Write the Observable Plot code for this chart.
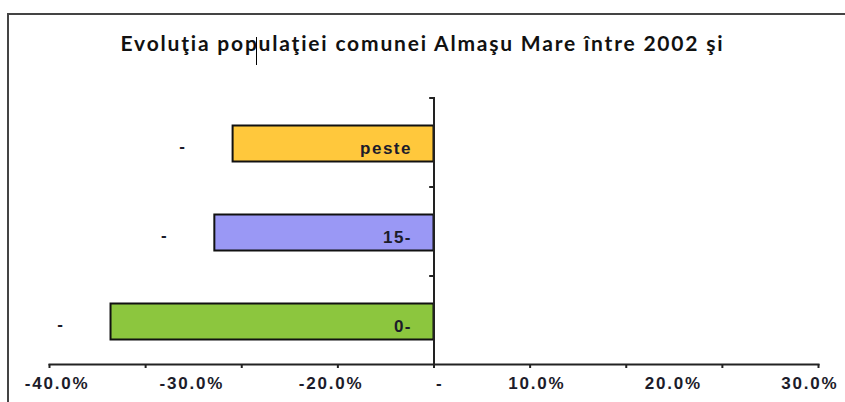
<!DOCTYPE html>
<html>
<head>
<meta charset="utf-8">
<script src="https://cdn.jsdelivr.net/npm/d3@7"></script>
<script src="https://cdn.jsdelivr.net/npm/@observablehq/plot@0.6"></script>
<style>
  html, body { margin: 0; padding: 0; background: #fff; }
  #wrap { position: relative; width: 845px; height: 402px; overflow: hidden; background: #fff; }
  #frameTop { position: absolute; left: 7px; top: 13px; width: 838px; height: 2px; background: #444; }
  #frameLeft { position: absolute; left: 7px; top: 13px; width: 2px; height: 389px; background: #444; }
  #title { position: absolute; left: 0; top: 30px; width: 845px; text-align: center;
           font-family: Lato, "Open Sans", sans-serif; font-weight: bold; font-size: 21px;
           letter-spacing: 1.8px; color: #111; white-space: nowrap; }
  #cursor { position: absolute; left: 256px; top: 37px; width: 1px; height: 28px; background: #000; }
  #chart { position: absolute; left: 0; top: 0; }
  #chart svg .lbl text, #chart svg text.lbl { letter-spacing: 1.8px; }
  #chart svg .ilbl text, #chart svg text.ilbl { letter-spacing: 1.5px; }
</style>
</head>
<body>
<div id="wrap">
  <div id="chart"></div>
  <div id="frameTop"></div>
  <div id="frameLeft"></div>
  <div id="title"></div>
  <div id="cursor"></div>
</div>
<script>
const titleText = "Evoluţia populaţiei comunei Almaşu Mare între 2002 şi";
const categories = ["peste", "15-", "0-"];
const values = [-20.9, -22.8, -33.6];
const colors = ["#FFC83C", "#9A98F5", "#8CC63E"];
const valueLabels = ["-", "-", "-"];
const tickValues = [-40, -30, -20, -10, 0, 10, 20, 30, 40];
const tickLabels = ["-40.0%", "-30.0%", "-20.0%", "-", "10.0%", "20.0%", "30.0%"];
const tickLabelAt = [-39.2, -25.2, -10.7, 0.6, 10.7, 24.9, 39.1];

document.getElementById("title").textContent = titleText;

const data = categories.map((c, i) => ({cat: c, value: values[i], color: colors[i], vlabel: valueLabels[i]}));
const labels = tickLabels.map((t, i) => ({t, x: tickLabelAt[i]}));

const textColor = "#1c1c2a";
const font = "'Liberation Sans', Arial, sans-serif";

const plot = Plot.plot({
  width: 845,
  height: 402,
  marginLeft: 49,
  marginRight: 27,
  marginTop: 97,
  marginBottom: 38,
  style: {background: "transparent", fontFamily: font},
  x: {domain: [-40, 40], axis: null},
  y: {domain: categories, axis: null, paddingInner: 0.6, paddingOuter: 0.3},
  marks: [
    Plot.barX(data, {x1: 0, x2: "value", y: "cat", fill: "color", stroke: "#111", strokeWidth: 2, dy: 1.5}),
    Plot.frame({anchor: "bottom", stroke: "#222", strokeWidth: 2}),
    Plot.axisX({ticks: tickValues, tickSize: 4, tickFormat: () => "", stroke: "#222", strokeWidth: 2, label: null}),
    Plot.ruleX([0], {stroke: "#222", strokeWidth: 2}),
    Plot.ruleY(categories, {y: d => d, x1: -0.45, x2: 0, dy: -44.5, stroke: "#222", strokeWidth: 2}),
    Plot.text(data, {x: 0, y: "cat", text: "cat", textAnchor: "end", dx: -22, dy: 6,
      fontSize: 17, fontWeight: "bold", fill: textColor, className: "ilbl"}),
    Plot.text(data, {x: "value", y: "cat", text: "vlabel", dx: -51, dy: 4,
      fontSize: 17, fontWeight: "bold", fill: textColor}),
    Plot.text(labels, {x: "x", text: "t", frameAnchor: "bottom", dy: 24,
      fontSize: 17, fontWeight: "bold", fill: textColor, className: "lbl"})
  ]
});
document.getElementById("chart").appendChild(plot);
</script>
</body>
</html>
